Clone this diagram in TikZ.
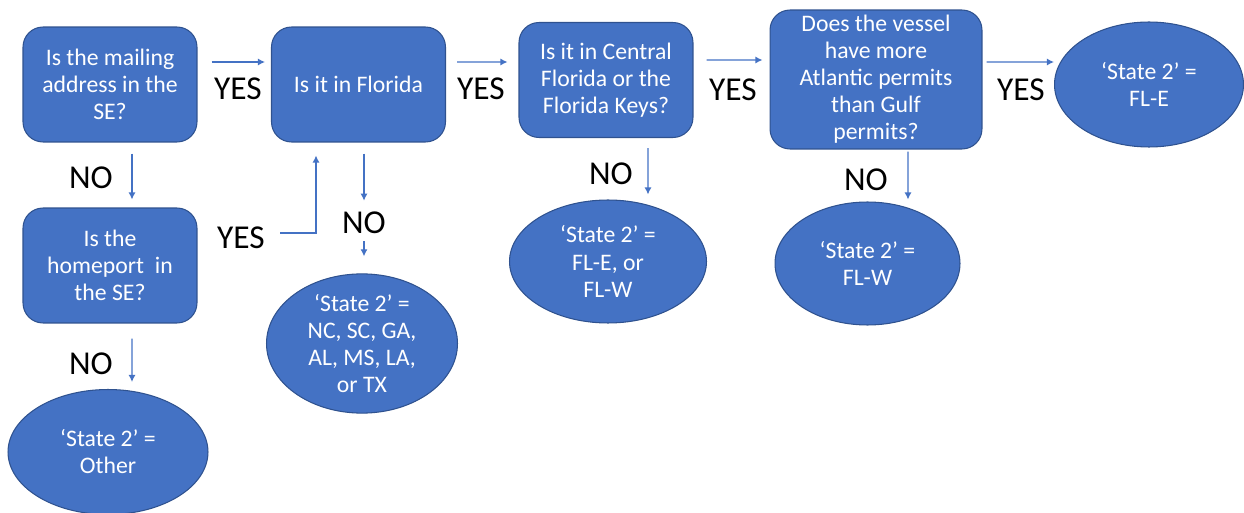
\documentclass[tikz,border=0pt]{standalone}
\usepackage{fontspec}
\setmainfont{Carlito}
\usepackage{tikz}
\usetikzlibrary{positioning}
\usetikzlibrary{shapes.geometric}
\usetikzlibrary{arrows.meta}
\usepackage{xcolor}
\definecolor{boxblue}{HTML}{4472C4}
\definecolor{rimblue}{HTML}{2F528F}

\begin{document}
\begin{tikzpicture}[x=0.02cm, y=-0.02cm,
    question/.style={draw=rimblue, line width=0.6pt, fill=boxblue, rounded corners=0.4cm,
        text=white, align=center, inner sep=0pt, minimum width=3.48cm, minimum height=2.3cm,
        font=\fontsize{13.5}{15.4}\selectfont},
    answer/.style={ellipse, draw=rimblue, line width=0.6pt, fill=boxblue,
        text=white, align=center, inner sep=0pt, minimum height=2.46cm,
        font=\fontsize{13.5}{15.4}\selectfont},
    choice/.style={inner sep=0pt, font=\fontsize{19}{22}\selectfont},
    flow/.style={boxblue, line width=0.7pt, -{Latex[length=4pt,width=4pt]}}
    ]
\useasboundingbox (0,0) rectangle (1244,513);

% questions
\node (mail) at (110,84.5) [question] {Is the mailing\\address in the\\SE?};
\node (fla) at (358.5,84.5) [question] {Is it in Florida};
\node (cen) at (606,80) [question] {Is it in Central\\Florida or the\\Florida Keys?};
\node (ves) at (876,79.5) [question, minimum width=4.24cm, minimum height=2.78cm]
{Does the vessel\\have more\\Atlantic permits\\than Gulf\\permits?};
\node (home) at (110,265.5) [question] {Is the\\homeport~ in\\the SE?};

% outcomes
\node (fle) at (1149,84.5) [answer, minimum width=3.78cm, minimum height=2.5cm] {‘State 2’ =\\FL-E};
\node (other) at (108,452) [answer, minimum width=4cm, minimum height=2.5cm] {‘State 2’ =\\Other};
\node (gulf) at (362,343.5) [answer, minimum width=3.82cm] {‘State 2’ =\\NC, SC, GA,\\AL, MS, LA,\\or TX};
\node (flew) at (608,261.5) [answer, minimum width=3.94cm] {‘State 2’ =\\FL-E, or\\FL-W};
\node (flw) at (867.5,263.5) [answer, minimum width=3.7cm] {‘State 2’ =\\FL-W};

% yes / no labels
\node (mailyes) at (238,89) [choice] {YES};
\node (flayes) at (481,89) [choice] {YES};
\node (cenyes) at (733,90) [choice] {YES};
\node (vesyes) at (1021,90) [choice] {YES};
\node (homeyes) at (241,238) [choice] {YES};
\node (mailno) at (91,178) [choice] {NO};
\node (flano) at (364,223) [choice] {NO};
\node (cenno) at (611,174) [choice] {NO};
\node (vesno) at (866,180) [choice] {NO};
\node (homeno) at (91,364) [choice] {NO};

% connectors
\draw[flow, shorten <=0.28cm, shorten >=0.12cm] ([yshift=0.45cm]mail.east) -- ([yshift=0.45cm]fla.west);
\draw[flow, shorten <=0.22cm, shorten >=0.22cm] ([yshift=0.45cm]fla.east) -- ([yshift=0.36cm]cen.west);
\draw[flow, shorten <=0.26cm, shorten >=0.14cm] ([yshift=0.4cm]cen.east) -- ([yshift=0.39cm]ves.west);
\draw[flow, shorten <=0.08cm] ([yshift=0.35cm]ves.east) -- ([yshift=0.45cm]fle.west);

\draw[flow, shorten <=0.22cm, shorten >=0.16cm] ([xshift=0.44cm]mail.south) -- ([xshift=0.44cm]home.north);
\draw[flow, shorten <=0.3cm, shorten >=0.14cm] ([xshift=0.44cm]home.south) -- ([xshift=0.48cm]other.north);
\draw[flow, shorten <=0.2cm, shorten >=0.1cm] ([xshift=0.84cm]cen.south) -- ([xshift=0.8cm]flew.north);
\draw[flow, shorten <=0.04cm, shorten >=0.04cm] ([xshift=0.64cm]ves.south) -- ([xshift=0.81cm]flw.north);

\draw[flow, shorten <=0.22cm, shorten >=0.22cm] (flano.north |- fla.south) -- (flano.north);
\draw[flow, shorten <=0.14cm, shorten >=0.34cm] (flano.south) -- (flano.south |- gulf.north);

\coordinate (homeout) at (280,233);
\draw[flow, shorten >=0.26cm] (homeout) -| ([xshift=-0.85cm]fla.south);

\end{tikzpicture}
\end{document}
